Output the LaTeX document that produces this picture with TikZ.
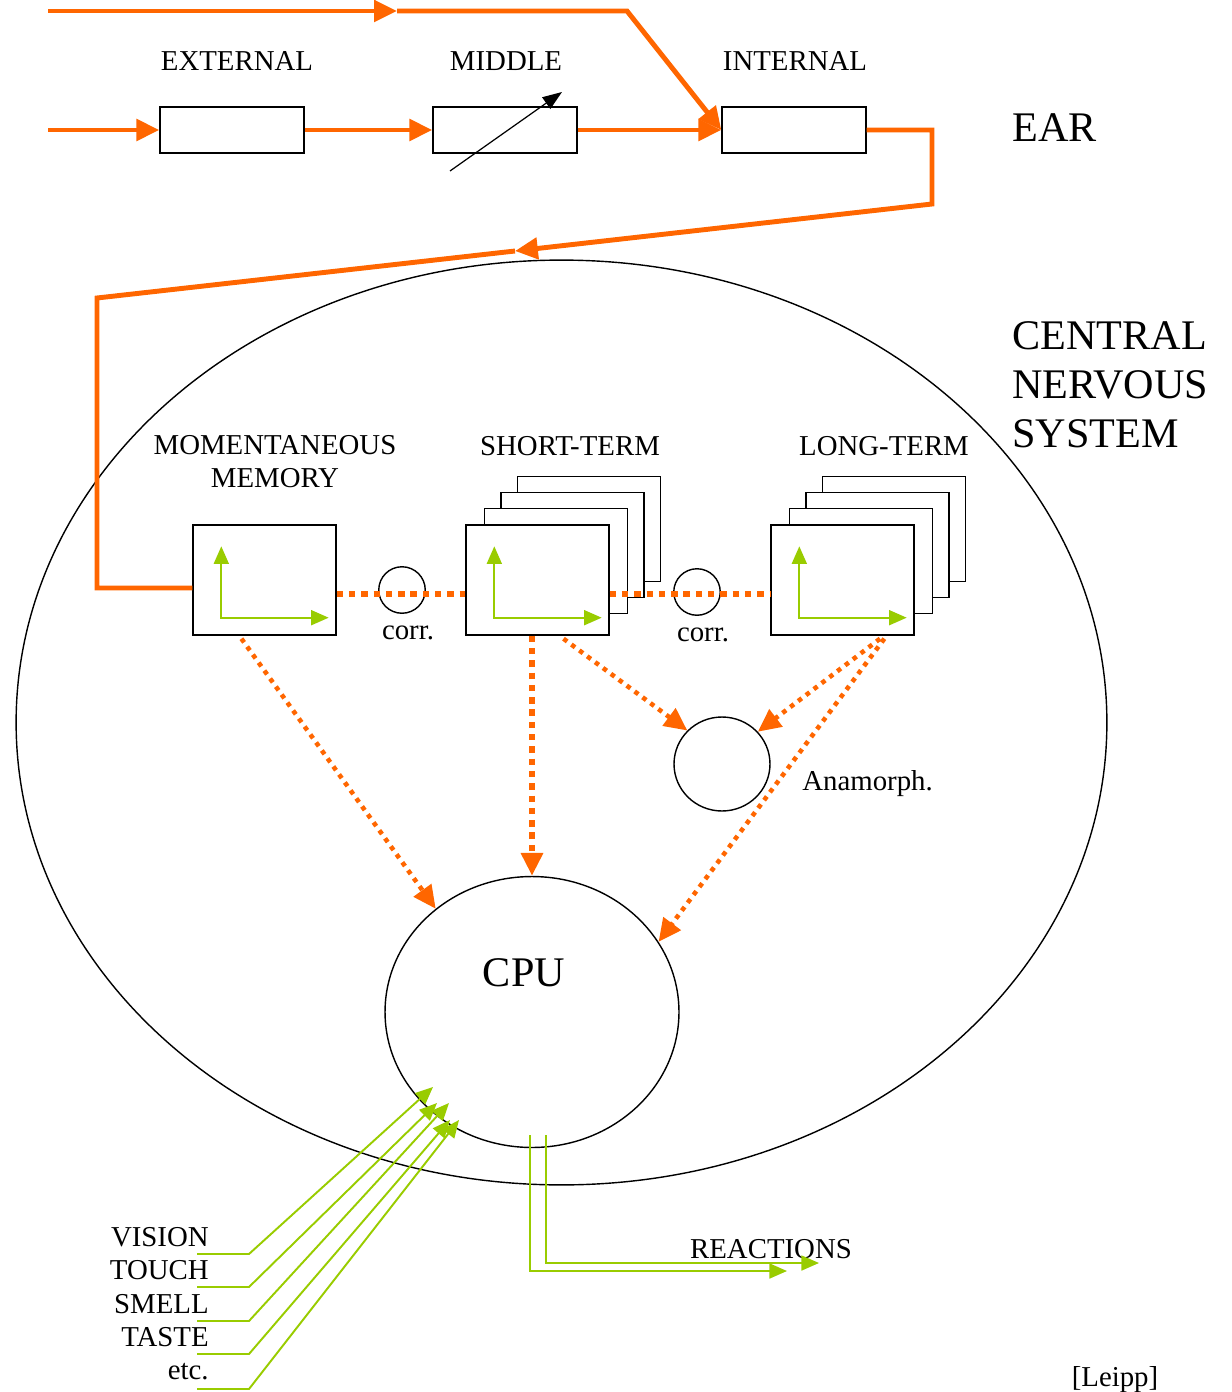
\documentclass[tikz,border=0pt]{standalone}
\usepackage{fontspec}
\setmainfont{Liberation Serif}
\usetikzlibrary{arrows.meta,shapes.geometric,calc}
\definecolor{hearorange}{HTML}{FF6600}
\definecolor{heargreen}{HTML}{99CC00}

\tikzset{
  lbl/.style={font=\fontsize{16.4}{18.7}\selectfont, inner sep=0pt, align=center},
  big/.style={font=\fontsize{24}{27.8}\selectfont, inner sep=0pt, align=left},
  earbox/.style={draw, line width=0.8pt, minimum width=2.88cm, minimum height=0.92cm, inner sep=0pt},
  membox/.style={draw, fill=white, line width=0.8pt, minimum width=2.86cm, minimum height=2.2cm, inner sep=0pt},
  ring/.style={draw, line width=0.8pt, ellipse, inner sep=0pt},
  otip/.style={-{Triangle[length=13pt,width=12pt]}},
  signal/.style={hearorange, line width=2.8pt},
  corrline/.style={hearorange, line width=3.4pt, dash pattern=on 3.6pt off 3.4pt},
  flow/.style={hearorange, line width=2.6pt, dash pattern=on 2.6pt off 3pt, otip},
  gtip/.tip={Triangle[length=10pt,width=8.5pt]},
  sense/.style={heargreen, line width=1.1pt, -{gtip}},
  axis/.style={heargreen, line width=1.1pt, {gtip}-{gtip}}
}

\begin{document}
\begin{tikzpicture}[x=0.02cm, y=-0.02cm]
    \useasboundingbox (0,0) rectangle (1231,1392);

    % Ear
    \node[lbl] (extlbl) at (237,61) {EXTERNAL};
    \node[lbl] (midlbl) at (506,61) {MIDDLE};
    \node[lbl] (intlbl) at (795,61) {INTERNAL};
    \node[big, anchor=west] (ear) at (1012,128) {EAR};

    \node[earbox] (ext) at (232,130) {};
    \node[earbox] (mid) at (505,130) {};
    \node[earbox] (int) at (794,130) {};

    \coordinate (t0) at (48,11);
    \coordinate (t1) at (397,11);
    \coordinate (t2) at (627,11);
    \coordinate (r0) at (48,130);
    \draw[signal, otip] (t0) -- (t1);
    \draw[signal, otip] (t1) -- (t2) -- (int.west);
    \draw[signal, otip] (r0) -- (ext);
    \draw[signal, otip] (ext) -- (mid);
    \draw[signal, otip] (mid) -- (int);

    \coordinate (v0) at (450,171);
    \coordinate (v1) at (562,92);
    \draw[line width=0.7pt, -{Triangle[length=11pt,width=8pt]}] (v0) -- (v1);

    % Central nervous system
    \node[ring, minimum width=21.82cm, minimum height=18.5cm] (cns) at (561.5,722.5) {};
    \node[big] (cnslbl) at (1012,385) [anchor=west] {CENTRAL\\NERVOUS\\SYSTEM};

    % Memories
    \node[lbl] (mmlbl) at (275,462) {MOMENTANEOUS\\MEMORY};
    \node[lbl] (stlbl) at (570,446) {SHORT-TERM};
    \node[lbl] (ltlbl) at (884,446) {LONG-TERM};

    \node[membox] (mm) at (264.5,580) {};
    \foreach \k in {3,2,1} {
        \node[membox, minimum height=2.1cm] (stb\k) at (539.5+16.5*\k,577-16*\k) {};
        \node[membox, minimum height=2.1cm] (ltb\k) at (844.5+16.5*\k,577-16*\k) {};
    }
    \node[membox] (st) at (537.5,580) {};
    \node[membox] (lt) at (842.5,580) {};

    \foreach \b in {mm,st,lt}
        \draw[axis] ([shift={(29,22)}]\b.north west) -- ([shift={(29,-18)}]\b.south west) -- ([shift={(-8,-18)}]\b.south east);

    % Correlators
    \node[ring, minimum size=0.93cm] (corra) at (402,590) {};
    \node[ring, minimum size=0.93cm] (corrb) at (697,592) {};
    \node[lbl] (corralbl) at (408,633) {corr.};
    \node[lbl] (corrblbl) at (703,635) {corr.};
    \draw[corrline] ([shift={(0,14)}]mm.east) -- ([shift={(0,14)}]st.west);
    \draw[corrline] ([shift={(0,14)}]st.east) -- ([shift={(0,14)}]lt.west);

    % Input from the ear
    \coordinate (c1) at (932,204);
    \coordinate (c2) at (515,251);
    \coordinate (c3) at (97,298);
    \coordinate (c4) at (97,588);
    \draw[signal, otip] (int.east) -| (c1) -- (c2);
    \draw[signal] (c2) -- (c3) -- (c4) -- (c4 -| mm.west);

    % Anamorphosis and CPU
    \node[ring, minimum width=1.92cm, minimum height=1.88cm] (anam) at (722,764) {};
    \node[lbl, anchor=west] (anamlbl) at (802,784) {Anamorph.};
    \node[ring, minimum width=5.88cm, minimum height=5.42cm] (cpu) at (532,1012) {};
    \node[big] (cpulbl) at (524,973) {CPU};

    \draw[flow] ($(mm.south west)!0.34!(mm.south east)+(0,3)$) -- (cpu.133);
    \draw[corrline, otip] (st.south -| cpu.north) -- (cpu.north);
    \draw[flow] ($(st.south west)!0.68!(st.south east)+(0,3)$) -- (anam.136);
    \draw[flow] ($(lt.south west)!0.76!(lt.south east)+(0,3)$) -- (anam.42);
    \draw[flow] ($(lt.south west)!0.79!(lt.south east)+(0,3)$) -- (cpu.29);

    % Senses
    \foreach \n/\t/\y/\dx/\dy in {vision/VISION/1237/-99/75, touch/TOUCH/1270/-95/91,
        smell/SMELL/1304/-83/91, taste/TASTE/1337/-82/108, etc/etc./1372/-73/108} {
        \node[lbl, anchor=east] (\n) at (209,\y) {\t};
        \draw[sense] ([shift={(-12,17)}]\n.east) -- ++(52,0) -- ($(cpu.center)+(\dx,\dy)$);
    }

    % Reactions
    \node[lbl] (reac) at (771,1249) {REACTIONS};
    \coordinate (o1) at ($(cpu.center)+(-2,123)$);
    \coordinate (o2) at ($(cpu.center)+(14,123)$);
    \coordinate (e1) at (787,1271);
    \coordinate (e2) at (819,1263);
    \draw[sense] (o1) |- (e1);
    \draw[sense] (o2) |- (e2);

    \node[lbl] (src) at (1115,1380) {[Leipp]};
\end{tikzpicture}
\end{document}
